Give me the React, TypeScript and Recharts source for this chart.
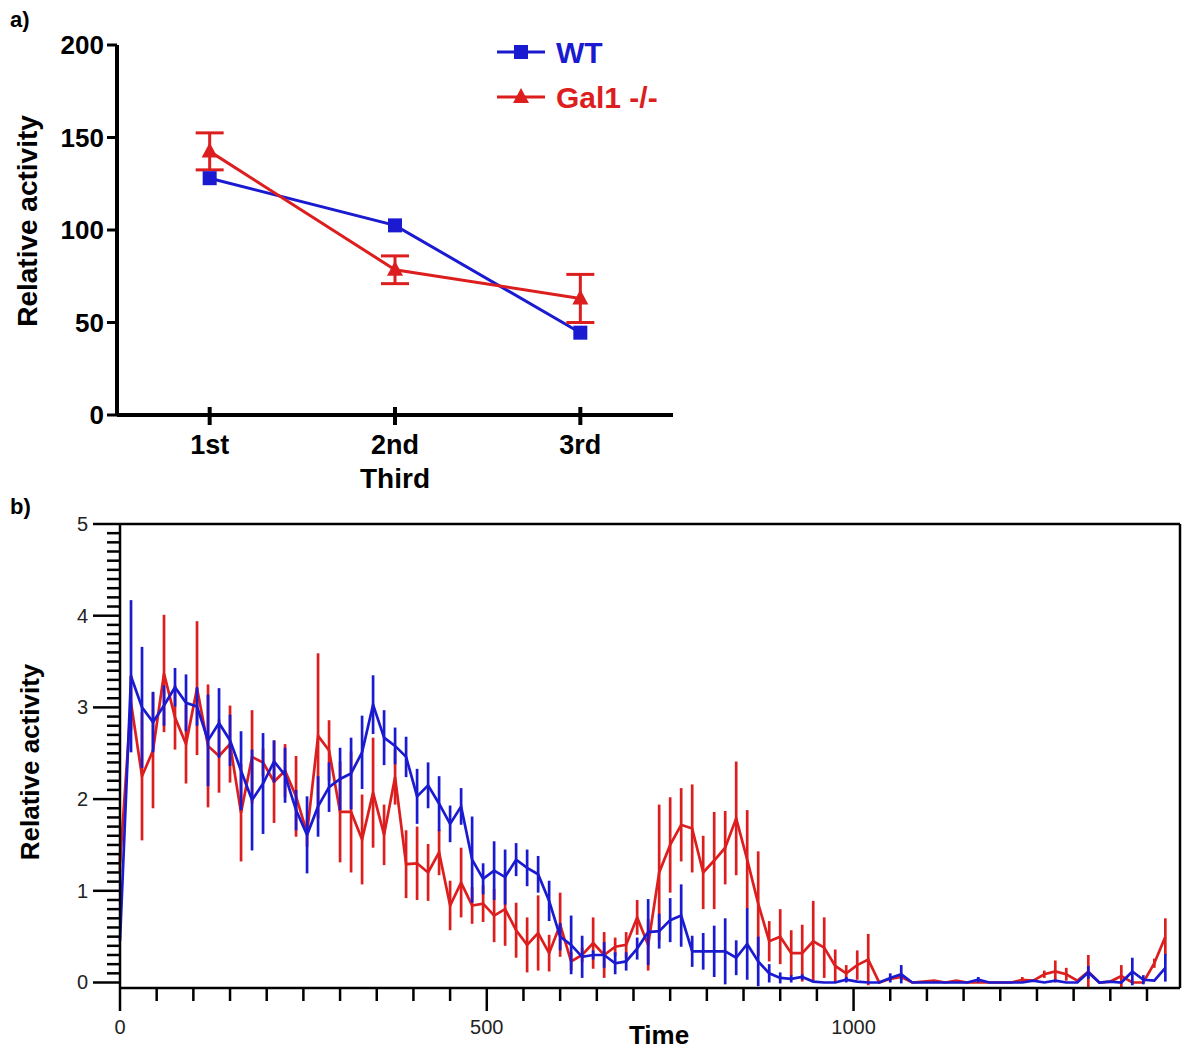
import { ComposedChart, Line, XAxis, YAxis, ErrorBar, ReferenceLine, Legend } from "recharts";

// panel a) activity per third of the recording
const thirds = ["1st", "2nd", "3rd"];
const wtThird = [128, 102.5, 44.5];
const galThird = [142.5, 78.5, 63];
const galThirdErr = [10, 7.5, 13];
const yTicksA = [0, 50, 100, 150, 200];

// panel b) time course, one sample every STEP time units
const STEP = 15;
const X_MAX = 1445;
const wtMean = [
  0.45, 3.34, 3.0, 2.84, 3.02, 3.22, 3.05, 3.01, 2.64, 2.83,
  2.64, 2.31, 1.99, 2.17, 2.41, 2.26, 1.88, 1.61, 1.92, 2.13,
  2.22, 2.28, 2.51, 3.03, 2.67, 2.58, 2.46, 2.03, 2.15, 1.95,
  1.73, 1.92, 1.34, 1.13, 1.22, 1.15, 1.34, 1.25, 1.18, 0.89,
  0.5, 0.41, 0.28, 0.3, 0.3, 0.21, 0.23, 0.37, 0.55, 0.56,
  0.68, 0.73, 0.34, 0.34, 0.34, 0.34, 0.27, 0.42, 0.23, 0.1,
  0.05, 0.04, 0.06, 0.01, 0, 0, 0.03, 0.01, 0, 0,
  0.05, 0.09, 0, 0, 0, 0, 0, 0, 0.03, 0,
  0, 0, 0, 0.02, 0, 0.02, 0, 0, 0.11, 0,
  0.01, 0, 0.12, 0.03, 0.02, 0.16,
];
const wtErr = [
  0, 0.83, 0.66, 0.33, 0.22, 0.21, 0.31, 0.21, 0.5, 0.38,
  0.28, 0.43, 0.55, 0.55, 0.23, 0.3, 0.22, 0.42, 0.33, 0.27,
  0.34, 0.39, 0.4, 0.32, 0.3, 0.2, 0.22, 0.3, 0.25, 0.3,
  0.2, 0.2, 0.47, 0.17, 0.32, 0.3, 0.18, 0.2, 0.2, 0.22,
  0.15, 0.32, 0.23, 0.05, 0.14, 0.12, 0.1, 0.12, 0.36, 0.19,
  0.24, 0.34, 0.17, 0.2, 0.28, 0.36, 0.19, 0.39, 0.27, 0.1,
  0.06, 0.04, 0.03, 0, 0, 0, 0.03, 0, 0, 0,
  0.05, 0.1, 0, 0, 0, 0, 0, 0, 0.03, 0,
  0, 0, 0, 0.01, 0, 0.01, 0, 0, 0.07, 0,
  0, 0, 0.15, 0.05, 0, 0.15,
];
const galMean = [
  1.3, 3.05, 2.25, 2.53, 3.37, 2.89, 2.6, 3.21, 2.58, 2.47,
  2.6, 1.85, 2.46, 2.4, 2.19, 2.31, 2.03, 1.63, 2.69, 2.53,
  1.86, 1.86, 1.56, 2.07, 1.61, 2.24, 1.29, 1.3, 1.2, 1.42,
  0.84, 1.09, 0.84, 0.86, 0.73, 0.8, 0.57, 0.41, 0.54, 0.32,
  0.63, 0.23, 0.3, 0.43, 0.3, 0.39, 0.41, 0.71, 0.41, 1.2,
  1.5, 1.72, 1.68, 1.2, 1.33, 1.47, 1.79, 1.34, 0.86, 0.45,
  0.5, 0.32, 0.32, 0.45, 0.38, 0.18, 0.1, 0.19, 0.25, 0,
  0.04, 0.06, 0, 0.01, 0.02, 0, 0.02, 0, 0, 0,
  0, 0, 0.03, 0.02, 0.09, 0.12, 0.09, 0.02, 0.12, 0,
  0.01, 0.07, 0, 0, 0.21, 0.5,
];
const galErr = [
  0.1, 0.3, 0.7, 0.63, 0.64, 0.35, 0.43, 0.73, 0.67, 0.4,
  0.42, 0.53, 0.51, 0.15, 0.45, 0.29, 0.44, 0.15, 0.9, 0.33,
  0.55, 0.66, 0.49, 0.6, 0.33, 0.3, 0.37, 0.4, 0.31, 0.25,
  0.27, 0.38, 0.2, 0.2, 0.29, 0.4, 0.3, 0.3, 0.41, 0.2,
  0.35, 0.1, 0.08, 0.28, 0.25, 0.1, 0.14, 0.19, 0.28, 0.74,
  0.52, 0.4, 0.48, 0.4, 0.53, 0.4, 0.62, 0.54, 0.57, 0.22,
  0.3, 0.25, 0.31, 0.44, 0.33, 0.18, 0.09, 0.16, 0.28, 0,
  0.02, 0.03, 0, 0, 0, 0, 0, 0, 0, 0,
  0, 0, 0.03, 0, 0.04, 0.12, 0.07, 0, 0.18, 0,
  0, 0.12, 0, 0, 0.05, 0.2,
];
const xMajorB = [0, 500, 1000];
const yMajorB = [0, 1, 2, 3, 4, 5];
const xTicksB = Array.from({ length: 29 }, (_, i) => i * 50);
const yTicksB = Array.from({ length: 51 }, (_, i) => i / 10);

const BLUE = "#1a1ad0";
const RED = "#dc1e1e";
const FONT = "'Liberation Sans', Arial, sans-serif";

const dataA = thirds.map((t, i) => ({
  x: i + 1,
  wt: wtThird[i],
  gal: galThird[i],
  galErr: galThirdErr[i],
}));

const dataB = wtMean.map((v, i) => ({
  t: i * STEP,
  wt: v,
  wtErr: wtErr[i],
  gal: galMean[i],
  galErr: galErr[i],
}));

function Square({ cx, cy }: any) {
  if (cx == null || cy == null) return null;
  return <rect x={cx - 7} y={cy - 7} width={14} height={14} fill={BLUE} />;
}

function Triangle({ cx, cy }: any) {
  if (cx == null || cy == null) return null;
  return <polygon points={`${cx},${cy - 9} ${cx - 8},${cy + 6} ${cx + 8},${cy + 6}`} fill={RED} />;
}

function ThirdTick({ x, y, payload }: any) {
  return (
    <g>
      <line x1={x} x2={x} y1={y - 8} y2={y + 10} stroke="#000" strokeWidth={4} />
      <text x={x} y={y + 39} textAnchor="middle" fontSize={27} fontWeight={700} fontFamily={FONT} fill="#000">
        {thirds[Math.round(payload.value) - 1]}
      </text>
    </g>
  );
}

function TimeTick({ x, y, payload }: any) {
  const major = xMajorB.includes(payload.value);
  return (
    <g>
      <line x1={x} x2={x} y1={y} y2={y + (major ? 23 : 13)} stroke="#000" strokeWidth={2.5} />
      {major && (
        <text x={x} y={y + 46} textAnchor="middle" fontSize={20} fontFamily={FONT} fill="#222">
          {payload.value}
        </text>
      )}
    </g>
  );
}

function ActivityTick({ x, y, payload }: any) {
  const major = yMajorB.includes(payload.value);
  return (
    <g>
      <line x1={x - (major ? 27 : 13)} x2={x} y1={y} y2={y} stroke="#000" strokeWidth={2.5} />
      {major && (
        <text x={x - 32} y={y + 7} textAnchor="end" fontSize={20} fontFamily={FONT} fill="#222">
          {payload.value}
        </text>
      )}
    </g>
  );
}

function LegendA() {
  return (
    <svg width={200} height={90}>
      <line x1={5} x2={53} y1={24} y2={24} stroke={BLUE} strokeWidth={3} />
      <rect x={22} y={17} width={14} height={14} fill={BLUE} />
      <text x={64} y={35} fontSize={30} fontWeight={700} fontFamily={FONT} fill={BLUE}>WT</text>
      <line x1={5} x2={53} y1={69} y2={69} stroke={RED} strokeWidth={3} />
      <polygon points="29,60 21,75 37,75" fill={RED} />
      <text x={64} y={80} fontSize={30} fontWeight={700} fontFamily={FONT} fill={RED}>Gal1 -/-</text>
    </svg>
  );
}

const title: React.CSSProperties = {
  position: "absolute",
  fontFamily: FONT,
  fontWeight: 700,
  color: "#000",
  lineHeight: 1,
  whiteSpace: "nowrap",
};

export default function App() {
  return (
    <div style={{ position: "absolute", left: 0, top: 0, width: 1184, height: 1053, background: "#fff", overflow: "hidden" }}>
      <div style={{ position: "absolute", left: 0, top: 0 }}>
        <ComposedChart width={700} height={470} data={dataA} margin={{ top: 45, right: 27, bottom: 0, left: 0 }}>
          <XAxis
            dataKey="x"
            type="number"
            domain={[0.5, 3.5]}
            ticks={[1, 2, 3]}
            interval={0}
            height={55}
            tickSize={0}
            tickMargin={0}
            tickLine={false}
            axisLine={{ stroke: "#000", strokeWidth: 4 }}
            tick={(p: any) => <ThirdTick {...p} />}
          />
          <YAxis
            type="number"
            domain={[0, 200]}
            ticks={yTicksA}
            interval={0}
            width={117}
            tickSize={10}
            tickMargin={3}
            axisLine={{ stroke: "#000", strokeWidth: 4 }}
            tickLine={{ stroke: "#000", strokeWidth: 3 }}
            tick={{ fill: "#000", fontSize: 26, fontWeight: 700, fontFamily: FONT }}
          />
          <Legend
            layout="horizontal"
            verticalAlign="middle"
            align="center"
            content={() => <LegendA />}
            wrapperStyle={{ position: "absolute", left: 492, top: 28, width: 200, height: 90 }}
          />
          <Line dataKey="wt" name="WT" stroke={BLUE} strokeWidth={3} dot={(p: any) => <Square key={p.index} {...p} />} activeDot={false} isAnimationActive={false} />
          <Line dataKey="gal" name="Gal1 -/-" stroke={RED} strokeWidth={3} dot={(p: any) => <Triangle key={p.index} {...p} />} activeDot={false} isAnimationActive={false}>
            <ErrorBar dataKey="galErr" direction="y" width={14} stroke={RED} strokeWidth={3} isAnimationActive={false} />
          </Line>
        </ComposedChart>
      </div>

      <div style={{ position: "absolute", left: 0, top: 480 }}>
        <ComposedChart width={1184} height={573} data={dataB} margin={{ top: 44, right: 4, bottom: 0, left: 0 }}>
          <XAxis
            dataKey="t"
            type="number"
            domain={[0, X_MAX]}
            ticks={xTicksB}
            interval={0}
            height={65}
            tickSize={0}
            tickMargin={0}
            tickLine={false}
            axisLine={{ stroke: "#000", strokeWidth: 2.5 }}
            tick={(p: any) => <TimeTick {...p} />}
          />
          <YAxis
            type="number"
            domain={[0, 5]}
            ticks={yTicksB}
            interval={0}
            width={120}
            tickSize={0}
            tickMargin={0}
            tickLine={false}
            axisLine={{ stroke: "#000", strokeWidth: 2.5 }}
            tick={(p: any) => <ActivityTick {...p} />}
          />
          <ReferenceLine y={5} stroke="#000" strokeWidth={2.5} />
          <ReferenceLine x={X_MAX} stroke="#000" strokeWidth={2.5} />
          <Line dataKey="gal" type="linear" stroke={RED} strokeWidth={2.7} dot={false} activeDot={false} isAnimationActive={false}>
            <ErrorBar dataKey="galErr" direction="y" width={0} stroke={RED} strokeWidth={2.7} isAnimationActive={false} />
          </Line>
          <Line dataKey="wt" type="linear" stroke={BLUE} strokeWidth={2.7} dot={false} activeDot={false} isAnimationActive={false}>
            <ErrorBar dataKey="wtErr" direction="y" width={0} stroke={BLUE} strokeWidth={2.7} isAnimationActive={false} />
          </Line>
        </ComposedChart>
      </div>

      <div style={{ ...title, left: 10, top: 9, fontSize: 22 }}>a)</div>
      <div style={{ ...title, left: 10, top: 496, fontSize: 22 }}>b)</div>
      <div style={{ ...title, left: 28, top: 221, fontSize: 28, transform: "translate(-50%, -50%) rotate(-90deg)" }}>
        Relative activity
      </div>
      <div style={{ ...title, left: 395, top: 465, fontSize: 28, transform: "translateX(-50%)" }}>Third</div>
      <div style={{ ...title, left: 30, top: 762, fontSize: 26, transform: "translate(-50%, -50%) rotate(-90deg)" }}>
        Relative activity
      </div>
      <div style={{ ...title, left: 659, top: 1022, fontSize: 26, transform: "translateX(-50%)" }}>Time</div>
    </div>
  );
}
